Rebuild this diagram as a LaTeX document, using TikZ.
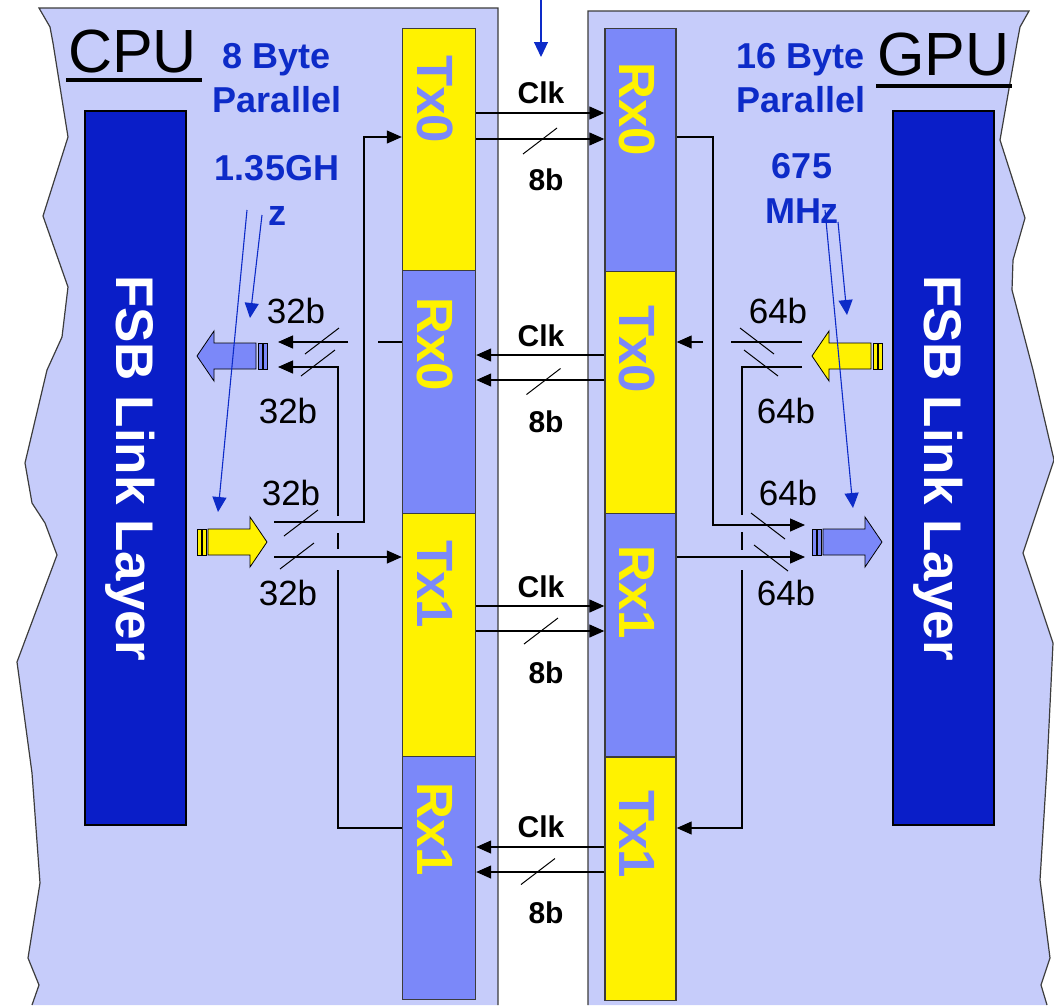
\documentclass[tikz,border=0pt]{standalone}
\usepackage{fontspec}
\setmainfont{Liberation Sans}
\usetikzlibrary{arrows.meta}

\definecolor{panel}{HTML}{C6CCFA}
\definecolor{lnkblue}{HTML}{7B88F9}
\definecolor{fsbblue}{HTML}{0A1EC8}
\definecolor{noteblue}{HTML}{0D2BC8}
\definecolor{edge}{HTML}{3C3C3C}

\tikzset{
  unit/.style={draw=edge,line width=1.4pt,inner sep=0pt,anchor=north,minimum height=243pt},
  cpuunit/.style={unit,minimum width=73pt},
  gpuunit/.style={unit,minimum width=71pt},
  unitlbl/.style={rotate=-90,anchor=west,inner sep=0pt,font=\fontsize{51}{51}\selectfont\bfseries},
  fsb/.style={draw=black,line width=1.2pt,fill=fsbblue,text=white,rotate=-90,inner sep=0pt,
    minimum width=714pt,minimum height=101pt,text depth=0pt,font=\fontsize{53}{53}\selectfont\bfseries},
  chip/.style={anchor=base west,inner sep=0pt,font=\fontsize{61}{61}\selectfont},
  note/.style={anchor=base,inner sep=0pt,text=noteblue,font=\fontsize{36}{36}\selectfont\bfseries},
  bus/.style={anchor=base,inner sep=0pt,font=\fontsize{35}{35}\selectfont},
  lnk/.style={anchor=base,inner sep=0pt,font=\fontsize{30}{30}\selectfont\bfseries},
  wire/.style={line width=1.2pt},
  arr/.style={wire,-{Triangle[length=15pt,width=13pt]}},
  hint/.style={noteblue,line width=1.1pt,-{Triangle[length=15pt,width=14pt]}},
  tick/.style={line width=1pt},
  pics/fat/.style={code={
    \draw[line width=0.8pt,pic actions] (0,-13) rectangle (4,13);
    \draw[line width=0.8pt,pic actions] (5,-13) rectangle (9,13);
    \draw[line width=0.8pt,pic actions] (11,-13) -- (53,-13) -- (53,-25) -- (70,0) -- (53,25) -- (53,13) -- (11,13) -- cycle;
  }}
}

\begin{document}
\begin{tikzpicture}[x=1pt,y=-1pt]
\useasboundingbox (0,0) rectangle (1054,1005);

% the two chips
\draw[edge,line width=1.2pt,fill=panel] (498,1005) -- (498,8) -- (39,8) -- (50,27) -- (53,43) -- (68,137) -- (43,216) -- (68,287) -- (62,337) -- (47,370) -- (25,463) -- (32,503) -- (45,523) -- (57,555) -- (17,662) -- (32,773) -- (40,883) -- (28,958) -- (39,985) -- (32,1005);
\draw[edge,line width=1.2pt,fill=panel] (588,1005) -- (588,11) -- (1029,11) -- (1020,27) -- (1017,43) -- (1000,140) -- (1025,218) -- (1013,260) -- (1012,290) -- (1033,370) -- (1054,460) -- (1023,553) -- (1053,643) -- (1047,767) -- (1040,880) -- (1050,958) -- (1041,985) -- (1047,1005);

\node[chip] (cpuName) at (68,72) {CPU};
\draw[line width=4pt] (66,80) -- (202,80);
\node[chip] (gpuName) at (877,75) {GPU};
\draw[line width=4pt] (876,86) -- (1012,86);

\node[fsb] (cpuLink) at (135.5,468) {FSB Link Layer};
\node[fsb] (gpuLink) at (943.5,468) {FSB Link Layer};

% link units
\node[cpuunit,fill=yellow] (cpuTx0) at (439,28) {};
\node[cpuunit,fill=lnkblue] (cpuRx0) at (439,270) {};
\node[cpuunit,fill=yellow] (cpuTx1) at (439,513) {};
\node[cpuunit,fill=lnkblue] (cpuRx1) at (439,756) {};
\node[gpuunit,fill=lnkblue] (gpuRx0) at (640.5,28) {};
\node[gpuunit,fill=yellow] (gpuTx0) at (640.5,271) {};
\node[gpuunit,fill=lnkblue] (gpuRx1) at (640.5,513) {};
\node[gpuunit,fill=yellow] (gpuTx1) at (640.5,757) {};

\node[unitlbl,text=lnkblue] (cpuTx0t) at (435,55) {Tx0};
\node[unitlbl,text=yellow] (cpuRx0t) at (435,297) {Rx0};
\node[unitlbl,text=lnkblue] (cpuTx1t) at (435,540) {Tx1};
\node[unitlbl,text=yellow] (cpuRx1t) at (435,782) {Rx1};
\node[unitlbl,text=yellow] (gpuRx0t) at (637,62) {Rx0};
\node[unitlbl,text=lnkblue] (gpuTx0t) at (637,305) {Tx0};
\node[unitlbl,text=yellow] (gpuRx1t) at (637,545) {Rx1};
\node[unitlbl,text=lnkblue] (gpuTx1t) at (637,790) {Tx1};

% serial links
\draw[arr] (cpuTx0.east |- 0,113) -- (gpuRx0.west |- 0,113);
\draw[arr] (cpuTx0.east |- 0,139) -- (gpuRx0.west |- 0,139);
\draw[arr] (gpuTx0.west |- 0,355) -- (cpuRx0.east |- 0,355);
\draw[arr] (gpuTx0.west |- 0,380) -- (cpuRx0.east |- 0,380);
\draw[arr] (cpuTx1.east |- 0,606) -- (gpuRx1.west |- 0,606);
\draw[arr] (cpuTx1.east |- 0,631) -- (gpuRx1.west |- 0,631);
\draw[arr] (gpuTx1.west |- 0,847) -- (cpuRx1.east |- 0,847);
\draw[arr] (gpuTx1.west |- 0,872) -- (cpuRx1.east |- 0,872);
\draw[tick] (540,141) +(-17,13) -- +(17,-13);
\draw[tick] (543.5,381.5) +(-17,13) -- +(17,-13);
\draw[tick] (541,631) +(-17,13) -- +(17,-13);
\draw[tick] (538,871.5) +(-17,13) -- +(17,-13);
\node[lnk] (clkA) at (541,103) {Clk};
\node[lnk] (clkB) at (541,346) {Clk};
\node[lnk] (clkC) at (541,597) {Clk};
\node[lnk] (clkD) at (541,837) {Clk};
\node[lnk] (widA) at (546,190) {8b};
\node[lnk] (widB) at (546,432) {8b};
\node[lnk] (widC) at (546,683) {8b};
\node[lnk] (widD) at (546,923) {8b};

% cpu side
\pic at (267,356) [rotate=180,fill=lnkblue] {fat};
\pic at (197,542) [fill=yellow] {fat};
\coordinate (cpuOutA) at (278,342);
\coordinate (cpuOutB) at (278,367);
\coordinate (cpuInA) at (274,522);
\coordinate (cpuInB) at (274,557);
\draw[wire] (cpuRx0.west |- cpuOutA) -- (378,342);
\draw[arr] (348,342) -- (cpuOutA);
\draw[wire] (cpuRx1.west |- 0,828) -- (338,828) -- (338,570);
\draw[wire] (338,549) -- (338,533);
\draw[arr] (338,516) -- (338,367) -- (cpuOutB);
\draw[arr] (cpuInA) -- (364,522) -- (364,137) -- (cpuTx0.west |- 0,137);
\draw[arr] (cpuInB) -- (cpuTx1.west |- cpuInB);
\draw[tick] (322,341) +(-17,13) -- +(17,-13);
\draw[tick] (318,363) +(-17,13) -- +(17,-13);
\draw[tick] (301,523) +(-17,13) -- +(17,-13);
\draw[tick] (297,556) +(-17,13) -- +(17,-13);
\node[bus] (cpuBusA) at (296,323) {32b};
\node[bus] (cpuBusB) at (288,423) {32b};
\node[bus] (cpuBusC) at (291,505) {32b};
\node[bus] (cpuBusD) at (288,605) {32b};

% gpu side
\pic at (882,356) [rotate=180,fill=yellow] {fat};
\pic at (812,542) [fill=lnkblue] {fat};
\coordinate (gpuInA) at (802,342);
\coordinate (gpuInB) at (802,367);
\coordinate (gpuOutA) at (805,525);
\coordinate (gpuOutB) at (805,557);
\draw[arr] (gpuRx0.east |- 0,137) -- (713,137) -- (713,525) -- (gpuOutA);
\draw[wire] (gpuInA) -- (731,342);
\draw[arr] (703,342) -- (gpuTx0.east |- gpuInA);
\draw[wire] (gpuInB) -- (742,367) -- (742,515);
\draw[wire] (742,532) -- (742,550);
\draw[arr] (742,570) -- (742,828) -- (gpuTx1.east |- 0,828);
\draw[arr] (gpuRx1.east |- gpuOutB) -- (gpuOutB);
\draw[tick] (757,341) +(-17,-13) -- +(17,13);
\draw[tick] (761,363) +(-17,-13) -- +(17,13);
\draw[tick] (768,526) +(-17,-13) -- +(17,13);
\draw[tick] (771,558) +(-17,-13) -- +(17,13);
\node[bus] (gpuBusA) at (778,323) {64b};
\node[bus] (gpuBusB) at (786,423) {64b};
\node[bus] (gpuBusC) at (788,505) {64b};
\node[bus] (gpuBusD) at (786,605) {64b};

% rates
\node[note] (cpuBytes) at (277,68) {8 Byte};
\node[note] (cpuPar) at (277,112) {Parallel};
\node[note] (cpuFreq) at (277,180) {1.35GH};
\node[note] (cpuFreqb) at (277,225) {z};
\node[note] (gpuBytes) at (801,68) {16 Byte};
\node[note] (gpuPar) at (801,112) {Parallel};
\node[note] (gpuFreq) at (802,178) {675};
\node[note] (gpuFreqb) at (802,223) {MHz};
\draw[hint] (262,215) -- (250,318);
\draw[hint] (247,210) -- (218,512);
\draw[hint] (838,222) -- (847,315);
\draw[hint] (825,210) -- (853,508);
\draw[hint] (541,0) -- (541,57);
\end{tikzpicture}
\end{document}
